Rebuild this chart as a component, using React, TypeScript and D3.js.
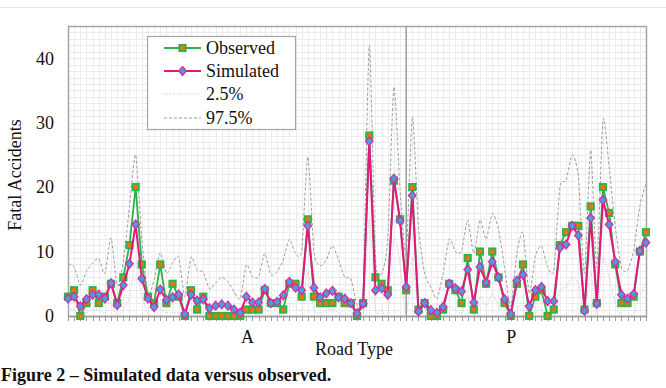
import React from 'react';
import * as d3 from 'd3';

// observed and simulated fatal accident counts per road segment
const observed = [
  3, 4, 0, 2, 4, 2, 3, 5, 2, 6, 11, 20, 8, 3, 2, 8, 2, 5, 3, 0, 4, 1, 3, 0, 0, 0, 0, 0, 0, 1,
  1, 1, 4, 2, 2, 1, 5, 5, 3, 15, 3, 2, 2, 2, 3, 2, 2, 0, 2, 28, 6, 5, 4, 21, 15, 4, 20, 1, 2, 0,
  0, 1, 5, 4, 2, 9, 1, 10, 5, 10, 6, 2, 0, 5, 8, 0, 3, 4, 0, 1, 11, 13, 14, 14, 1, 17, 2, 20, 16, 8,
  2, 2, 3, 10, 13,
];
const simulated = [
  2.7, 3, 1.5, 2.6, 3.3, 3.3, 2.7, 5.1, 1.7, 4.8, 8.1, 14.2, 5.8, 2.7, 1.4, 4.1, 2.5, 2.9, 3.3, 0.3,
  3.3, 2.4, 2.6, 1.2, 1.6, 1.8, 1.6, 1.0, 0.5, 3.0, 2.1, 2.1, 4.2, 2.0, 2.2, 3.2, 5.3, 4.4, 4.0, 14.0,
  4.4, 2.9, 3.5, 3.9, 2.9, 2.7, 2.0, 0.4, 1.9, 27.1, 4.0, 4.3, 3.3, 21.3, 14.8, 4.5, 18.7, 0.7, 2.0, 0.9,
  0.5, 1.4, 5.0, 4.3, 3.8, 7.2, 2.1, 7.6, 5.2, 8.4, 6.0, 2.6, 0.3, 5.5, 6.4, 1.5, 4.0, 4.5, 2.3, 2.3,
  10.6, 11.1, 14.0, 12.5, 0.8, 15.2, 1.9, 18.0, 14.2, 8.4, 3.3, 2.7, 3.4, 10.1, 11.4,
];
// simulation percentile bands
const upper975 = [
  8.1, 7.6, 4.8, 6.9, 8.2, 8.9, 6.6, 12.1, 4.7, 8.5, 17, 25, 12, 3.5, 5.6, 9.8, 6.6, 8.2, 9.1, 3.0,
  9.1, 7.1, 6.8, 4.2, 5.1, 6.0, 5.3, 3.8, 2.7, 7.9, 6.1, 6.1, 9.7, 6.4, 6.9, 8.7, 11.9, 9.7, 10.2, 24.7,
  10.0, 7.8, 8.7, 10.9, 8.7, 6.0, 5.8, 1.8, 3.5, 42, 9, 6.6, 12, 35.5, 19.5, 9.7, 30.9, 13.8, 6.6, 4.5,
  2.7, 6.6, 11.9, 10, 10, 14.9, 9.7, 14.9, 11.9, 15.9, 13.5, 7.5, 1.5, 9.7, 12.9, 3.5, 9.2, 10.9, 7.6, 7.1,
  20, 21, 25, 21.6, 6.6, 25.7, 7.5, 30.4, 23.2, 13.9, 7.6, 7.1, 10.2, 17, 20.6,
];
const lower25 = [
  1, 1, 0, 0.5, 1, 1, 0.5, 2, 0, 1, 3, 8.5, 3, 0.5, 0, 1, 0.5, 0.5, 0.5, 0,
  1, 0.5, 0.5, 0, 0, 0, 0, 0, 0, 0.5, 0, 0, 1, 0, 0, 0.5, 2, 1.5, 1, 7,
  1, 0.5, 1, 1, 0.5, 0, 0, 0, 0, 15, 1, 1, 0, 12, 8, 0, 9, 0, 0, 0,
  0, 0, 1.5, 1, 0.5, 3, 0, 3, 1.5, 3.5, 1.5, 0, 0, 1, 2, 0, 0.5, 1, 0, 0,
  4, 4.5, 6, 5, 0, 7, 0, 9, 6, 2, 0, 0, 0.5, 3, 5,
];
const yTicks = [0, 10, 20, 30, 40];
// road type groups: label, position on the category axis
const roadTypes = [
  { label: 'A', at: 29.2 },
  { label: 'P', at: 72.1 },
];
const groupBreak = 55;

const W = 666;
const H = 388;
const margin = { left: 68, right: 19, top: 26, bottom: 72 };
const font = '"Liberation Serif", "Times New Roman", serif';
const FS = 18;

const GREEN = '#2bb24c';
const ORANGE = '#e2780f';
const PINK = '#e3187c';
const BLUE = '#4b9be0';
const MAGENTA = '#d62c9e';

export default function App() {
  const idx = d3.range(observed.length);
  const x = d3.scaleLinear().domain([0, observed.length - 1]).range([margin.left, W - margin.right - 1]);
  const y = d3.scaleLinear().domain([0, 45]).range([H - margin.bottom, margin.top]);
  const x0 = margin.left;
  const x1 = W - margin.right;
  const y0 = y(0);
  const yTop = y(45);

  const straight = (vals: number[]) =>
    d3.line<number>().x((i) => x(i)).y((i) => y(vals[i]))(idx) || '';
  const smooth = (vals: number[]) =>
    d3
      .line<number>()
      .x((i) => x(i))
      .y((i) => y(vals[i]))
      .curve(d3.curveCardinal.tension(0.3))(idx) || '';

  const diamond = (cx: number, cy: number) =>
    `M${cx},${cy - 4.5}L${cx + 3.8},${cy}L${cx},${cy + 4.5}L${cx - 3.8},${cy}Z`;

  return (
    <div style={{ position: 'absolute', left: 0, top: 0 }}>
      <svg width={W} height={H} style={{ display: 'block', background: '#fff' }} fontFamily={font}>
        <defs>
          <clipPath id="plot">
            <rect x={x0} y={yTop} width={x1 - x0} height={y0 - yTop} />
          </clipPath>
        </defs>
        <line x1={0} x2={W} y1={7.5} y2={7.5} stroke="#e2e2e2" />

        {/* fine grid */}
        <g stroke="#ececec" strokeWidth={1}>
          {d3.range(1, 46).map((v) => (
            <line key={'h' + v} x1={x0} x2={x1} y1={Math.round(y(v)) + 0.5} y2={Math.round(y(v)) + 0.5} />
          ))}
          {idx.slice(1).map((i) => (
            <line key={'v' + i} x1={Math.round(x(i)) + 0.5} x2={Math.round(x(i)) + 0.5} y1={yTop} y2={y0} />
          ))}
        </g>

        {/* plot frame */}
        <rect x={x0 + 0.5} y={yTop + 0.5} width={x1 - x0 - 1} height={y0 - yTop} fill="none" stroke="#a6a6a6" strokeWidth={1.5} />
        <line x1={x(groupBreak)} x2={x(groupBreak)} y1={yTop} y2={y0} stroke="#9a9a9a" strokeWidth={1.5} />

        {/* category ticks */}
        <g stroke="#9a9a9a">
          {idx.map((i) => (
            <line key={'t' + i} x1={Math.round(x(i)) + 0.5} x2={Math.round(x(i)) + 0.5} y1={y0} y2={y0 + 5} />
          ))}
        </g>
        <line x1={x0} x2={x1} y1={y0 + 0.5} y2={y0 + 0.5} stroke="#9a9a9a" strokeWidth={1.5} />

        {/* y axis labels */}
        {yTicks.map((t) => (
          <text key={t} x={54} y={y(t)} dy="0.35em" textAnchor="end" fontSize={FS} fill="#111">
            {t}
          </text>
        ))}
        <text transform={`translate(21,${(yTop + y0) / 2 + 4}) rotate(-90)`} textAnchor="middle" fontSize={FS} fill="#111">
          Fatal Accidents
        </text>

        {roadTypes.map((r) => (
          <text key={r.label} x={x(r.at)} y={343} textAnchor="middle" fontSize={FS} fill="#111">
            {r.label}
          </text>
        ))}
        <text x={354} y={355} textAnchor="middle" fontSize={FS} fill="#111">
          Road Type
        </text>
        <text x={1} y={381} fontSize={FS} fontWeight="bold" fill="#111">
          Figure 2 – Simulated data versus observed.
        </text>

        <g clipPath="url(#plot)" fill="none">
          <path d={smooth(lower25)} stroke="#c4c4c4" strokeWidth={1} strokeDasharray="1,1.5" />
          <path d={smooth(upper975)} stroke="#9c9c9c" strokeWidth={1} strokeDasharray="3,2" />
        </g>

        {/* observed */}
        <path d={straight(observed)} fill="none" stroke={GREEN} strokeWidth={1.8} />
        {idx.map((i) => (
          <rect key={'o' + i} x={x(i) - 3.2} y={y(observed[i]) - 3.2} width={6.4} height={6.4} fill={ORANGE} stroke={GREEN} strokeWidth={1.8} />
        ))}

        {/* simulated */}
        <path d={straight(simulated)} fill="none" stroke={PINK} strokeWidth={2} />
        {idx.map((i) => (
          <path key={'s' + i} d={diamond(x(i), y(simulated[i]))} fill={BLUE} stroke={MAGENTA} strokeWidth={1.2} />
        ))}

        {/* legend */}
        <g transform="translate(147,36)">
          <rect x={0.5} y={0.5} width={148} height={93} fill="#fff" stroke="#a6a6a6" strokeWidth={1.2} />
          <g transform="translate(0,12)">
            <line x1={17} x2={54} y1={0} y2={0} stroke={GREEN} strokeWidth={1.8} />
            <rect x={32.3} y={-3.2} width={6.4} height={6.4} fill={ORANGE} stroke={GREEN} strokeWidth={1.8} />
            <text x={59} y={0} dy="0.35em" fontSize={FS} fill="#111">Observed</text>
          </g>
          <g transform="translate(0,35)">
            <line x1={17} x2={54} y1={0} y2={0} stroke={PINK} strokeWidth={2} />
            <path d={diamond(35.5, 0)} fill={BLUE} stroke={MAGENTA} strokeWidth={1.2} />
            <text x={59} y={0} dy="0.35em" fontSize={FS} fill="#111">Simulated</text>
          </g>
          <g transform="translate(0,58)">
            <line x1={17} x2={54} y1={0} y2={0} stroke="#c4c4c4" strokeWidth={1} strokeDasharray="1,1.5" />
            <text x={59} y={0} dy="0.35em" fontSize={FS} fill="#111">2.5%</text>
          </g>
          <g transform="translate(0,82)">
            <line x1={17} x2={54} y1={0} y2={0} stroke="#9c9c9c" strokeWidth={1} strokeDasharray="3,2" />
            <text x={59} y={0} dy="0.35em" fontSize={FS} fill="#111">97.5%</text>
          </g>
        </g>
      </svg>
    </div>
  );
}
